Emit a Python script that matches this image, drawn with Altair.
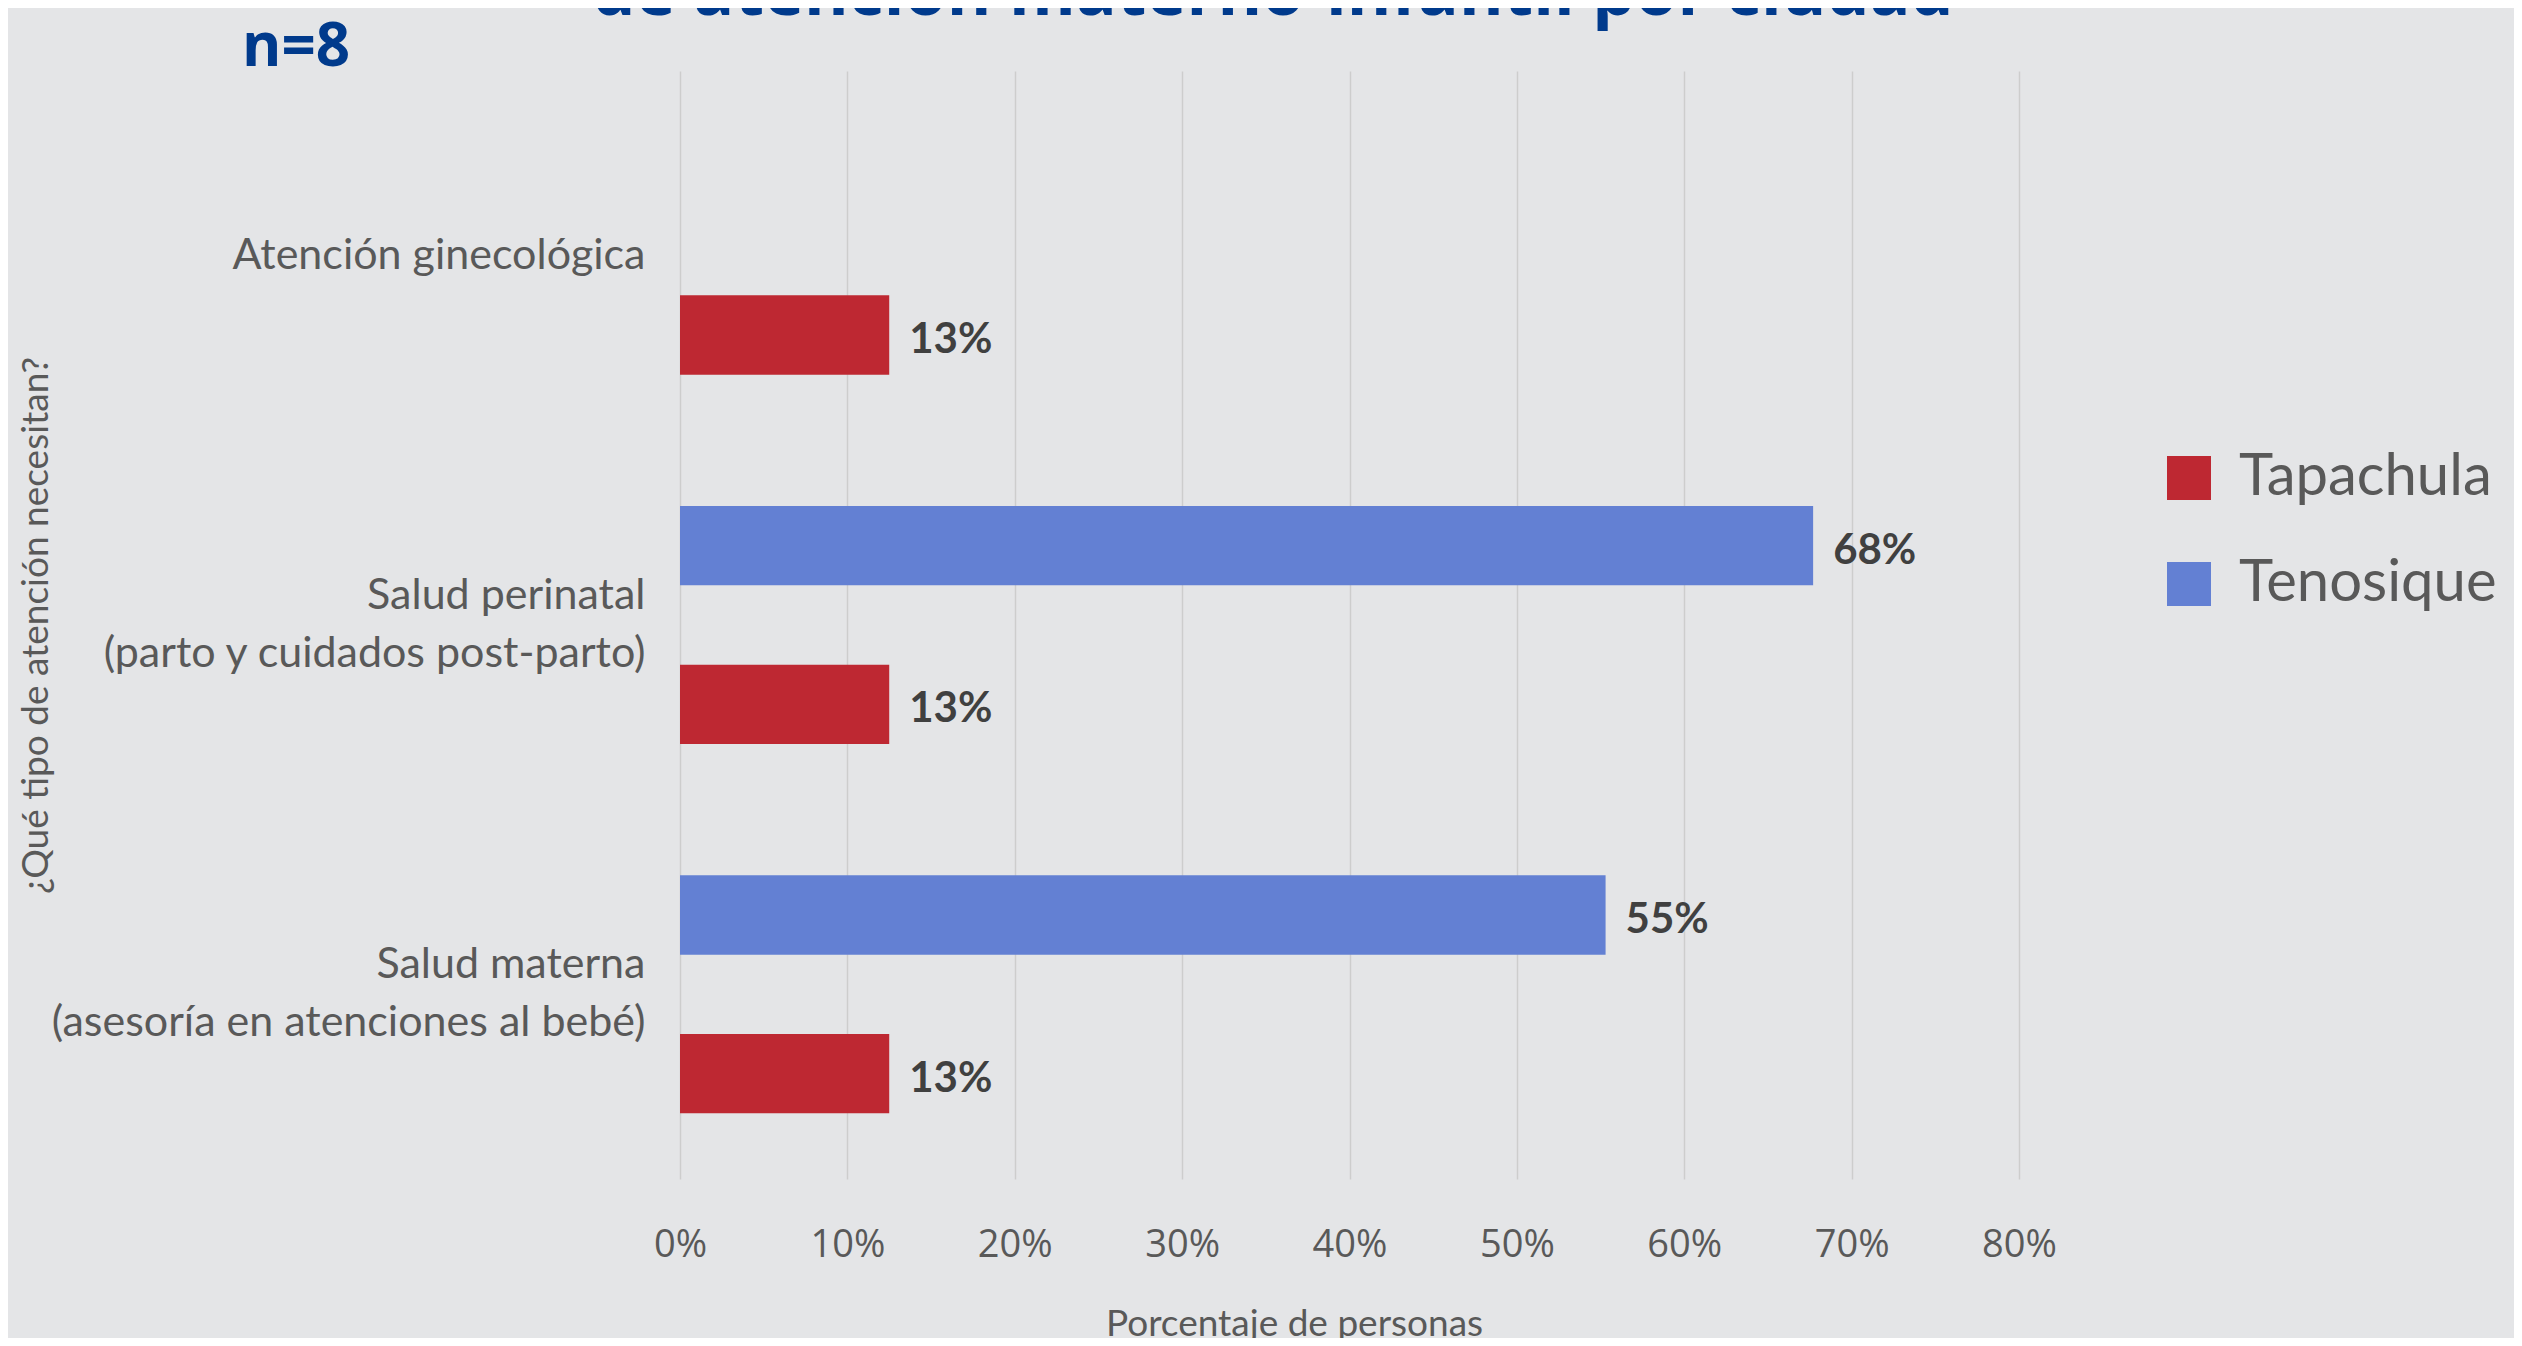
import altair as alt
import pandas as pd

# ---- data ----
categories = [
    "Atención ginecológica",
    "Salud perinatal|(parto y cuidados post-parto)",
    "Salud materna |(asesoría en atenciones al bebé)",
]
series_names = ["Tapachula", "Tenosique"]
tapachula_values = [0.125, 0.125, 0.125]
tenosique_values = [None, 0.677, 0.553]
tapachula_labels = ["13%", "13%", "13%"]
tenosique_labels = ["", "68%", "55%"]
x_ticks = [0, 0.1, 0.2, 0.3, 0.4, 0.5, 0.6, 0.7, 0.8]
slot_order = ["Tenosique", "_hueco", "Tapachula"]
title_main = "de atención materno-infantil por ciudad"
title_n = "n=8"

colors = ["#BE2832", "#6380D3"]

rows = []
for cat, v, lab in zip(categories, tapachula_values, tapachula_labels):
    if v is not None:
        rows.append({"cat": cat, "serie": "Tapachula", "valor": v, "etiqueta": lab})
for cat, v, lab in zip(categories, tenosique_values, tenosique_labels):
    if v is not None:
        rows.append({"cat": cat, "serie": "Tenosique", "valor": v, "etiqueta": lab})
df = pd.DataFrame(rows)

W, H = 1339, 1108

y_enc = alt.Y(
    "cat:N",
    sort=categories,
    scale=alt.Scale(paddingInner=0, paddingOuter=0),
    axis=alt.Axis(
        title="¿Qué tipo de atención necesitan?",
        titleX=-644, titleY=554, titleAngle=270,
        titleBaseline="middle", titleAlign="center",
        titleFont="Lato", titleFontSize=37, titleFontWeight="normal",
        titleColor="#595959",
        labelExpr="split(datum.label, '|')",
        labelFont="Lato", labelFontSize=43, labelColor="#595959",
        labelPadding=35, labelLimit=900, labelLineHeight=58,
        labelOffset={"condition": {"test": "indexof(datum.label, '|') >= 0", "value": -29}, "value": 0},
        domain=False, ticks=False, tickSize=0, grid=False,
    ),
)
yoff_enc = alt.YOffset(
    "serie:N",
    scale=alt.Scale(domain=slot_order, paddingInner=0, paddingOuter=0.827),
)
x_enc = alt.X(
    "valor:Q",
    scale=alt.Scale(domain=[0, 0.8], nice=False),
    axis=alt.Axis(
        values=x_ticks, format=".0%",
        grid=True, gridColor="#CDCDCD", gridWidth=1.5,
        domain=False, ticks=False, tickSize=0,
        labelFont="Open Sans", labelFontSize=38, labelColor="#595959",
        labelPadding=66, labelBaseline="middle",
        labelFlush=False, labelOverlap=False,
        title="Porcentaje de personas",
        titleFont="Lato", titleFontSize=37, titleFontWeight="normal",
        titleColor="#595959", titleX=614, titleY=156,
        titleBaseline="alphabetic", titleAlign="center",
    ),
)

base = alt.Chart(df)

bars = base.mark_bar().encode(
    x=x_enc,
    y=y_enc,
    yOffset=yoff_enc,
    color=alt.Color(
        "serie:N",
        scale=alt.Scale(domain=series_names, range=colors),
        legend=alt.Legend(
            orient="none", legendX=1480, legendY=378, title=None,
            symbolType="square", symbolSize=1936, symbolStrokeWidth=0,
            symbolOpacity=1,
            labelFont="Lato", labelFontSize=58, labelColor="#595959",
            labelOffset=21, labelLimit=600, rowPadding=48, padding=0,
        ),
    ),
)

labels = base.mark_text(
    align="left", baseline="middle", dx=20, dy=5,
    font="Lato", fontSize=42, fontWeight="bold", color="#404040",
).encode(
    x="valor:Q",
    y=alt.Y("cat:N", sort=categories),
    yOffset=alt.YOffset("serie:N", scale=alt.Scale(domain=slot_order)),
    text="etiqueta:N",
)

t_main = alt.Chart(pd.DataFrame({"t": [title_main]})).mark_text(
    align="center", baseline="alphabetic",
    font="Open Sans", fontSize=68, fontWeight="bold", color="#003A8C",
).encode(text="t:N", x=alt.value(593), y=alt.value(-56))

t_n = alt.Chart(pd.DataFrame({"t": [title_n]})).mark_text(
    align="left", baseline="alphabetic",
    font="Open Sans", fontSize=60, fontWeight="bold", color="#003A8C",
).encode(text="t:N", x=alt.value(-438), y=alt.value(-5))

chart = alt.layer(bars, labels, t_main, t_n).properties(
    width=W, height=H,
    autosize=alt.AutoSizeParams(type="none"),
    padding={"left": 672, "top": 63, "right": 495, "bottom": 159},
    background="#E4E5E7",
).configure_view(stroke=None)

chart.save("out.html", embed_options={"renderer": "svg", "actions": False})
